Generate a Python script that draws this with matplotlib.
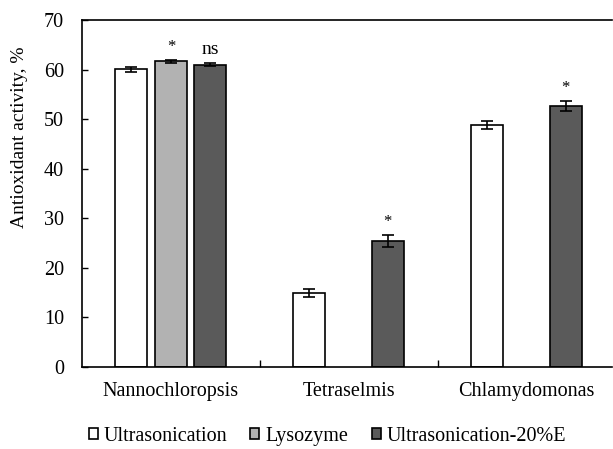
import numpy as np
import matplotlib.pyplot as plt

categories = ['Nannochloropsis', 'Tetraselmis', 'Chlamydomonas']
series = ['Ultrasonication', 'Lysozyme', 'Ultrasonication-20%E']
colors = ['white', '#b2b2b2', '#5a5a5a']

# values per series (None = no bar)
ultra = [60.1, 14.9, 48.8]
ultra_err = [0.5, 0.8, 0.8]
lyso = [61.7, None, None]
lyso_err = [0.3, None, None]
ultra20 = [61.0, 25.4, 52.6]
ultra20_err = [0.3, 1.2, 1.0]
marks = [[None, None, None], ['*', None, None], ['ns', '*', '*']]

plt.rcParams['font.family'] = ['Liberation Serif', 'DejaVu Serif']

fig = plt.figure(figsize=(6.13, 4.49), dpi=100)
ax = fig.add_axes([82/613, 82/449, 530/613, 347/449])

x = np.arange(len(categories))
offsets = [-0.222, 0, 0.219]
width = 0.18
data = [(ultra, ultra_err), (lyso, lyso_err), (ultra20, ultra20_err)]
for i, (vals, errs) in enumerate(data):
    for j, v in enumerate(vals):
        if v is None:
            continue
        xi = x[j] + offsets[i]
        ax.bar(xi, v, width, color=colors[i], edgecolor='black', linewidth=1.2,
               yerr=errs[j], capsize=4, error_kw=dict(elinewidth=1.2, capthick=1.2),
               label=series[i] if j == 0 else None, zorder=2)
        if marks[i][j]:
            ax.text(xi, v + errs[j] + 1.0, marks[i][j], ha='center', va='bottom',
                    fontsize=14 if marks[i][j] == 'ns' else 12)

ax.set_xlim(-0.5, 2.48)
ax.set_ylim(0, 70)
ax.set_yticks(range(0, 71, 10))
ax.set_xticks(x)
ax.set_xticklabels(categories, fontsize=14.5)
ax.set_xticks([0.5, 1.5], minor=True)
ax.tick_params(axis='x', which='major', length=0, pad=11)
ax.tick_params(axis='x', which='minor', direction='in', length=5, width=1)
ax.tick_params(axis='y', direction='in', length=4, width=1, labelsize=14.5, pad=13)
ax.spines['right'].set_visible(False)
for s in ['left', 'top', 'bottom']:
    ax.spines[s].set_linewidth(1.2)
ax.set_ylabel('Antioxidant activity, %', fontsize=14)
ax.yaxis.set_label_coords(-54/530, 0.663)

fig.legend(loc='center', bbox_to_anchor=(0.534, 0.028), ncol=3, frameon=False,
           fontsize=14.5, handlelength=0.45, handleheight=0.45, handletextpad=0.3,
           columnspacing=1.15, borderpad=0)

fig.savefig('out.png', dpi=100)
